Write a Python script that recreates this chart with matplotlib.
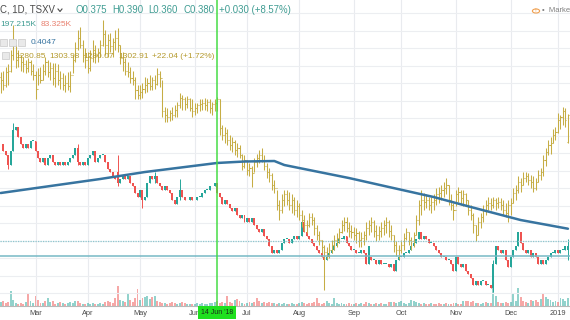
import matplotlib
matplotlib.use("Agg")
import matplotlib.pyplot as plt
from matplotlib.patches import Rectangle, Circle
from matplotlib.lines import Line2D
import numpy as np
import pandas as pd

plt.rcParams['font.family'] = ['Liberation Sans', 'DejaVu Sans']

# ---------------- data ----------------
HOLIDAYS = ['2018-02-19', '2018-03-30', '2018-05-21', '2018-07-02', '2018-08-06',
            '2018-09-03', '2018-10-08', '2018-12-25', '2018-12-26', '2019-01-01']
START, END = '2018-02-08', '2019-01-08'

# stock daily closes (CAD), Feb 2018 .. Jan 2019
stock_close = [
    # Feb
    0.525, 0.515, 0.510, 0.495, 0.515, 0.545, 0.550, 0.535, 0.525, 0.520, 0.525, 0.520, 0.530, 0.530,
    # Mar
    0.515, 0.505, 0.500, 0.505, 0.495, 0.505, 0.510, 0.500, 0.495, 0.500, 0.495, 0.500, 0.495, 0.500,
    0.505, 0.510, 0.520, 0.500, 0.495, 0.500, 0.495,
    # Apr
    0.505, 0.510, 0.515, 0.500, 0.505, 0.510, 0.510, 0.500, 0.490, 0.485, 0.480, 0.475, 0.470, 0.475,
    0.480, 0.475, 0.480, 0.470, 0.465, 0.455, 0.450,
    # May
    0.460, 0.445, 0.450, 0.470, 0.480, 0.475, 0.480, 0.470, 0.465, 0.460, 0.465, 0.460, 0.455, 0.445,
    0.440, 0.450, 0.460, 0.450, 0.445, 0.445, 0.450, 0.445,
    # Jun
    0.445, 0.450, 0.450, 0.455, 0.460, 0.460, 0.465, 0.465, 0.470, 0.455, 0.450, 0.440, 0.445, 0.440,
    0.435, 0.430, 0.435, 0.425, 0.420, 0.425, 0.415,
    # Jul
    0.420, 0.415, 0.420, 0.410, 0.405, 0.400, 0.405, 0.395, 0.390, 0.380, 0.370, 0.375, 0.370, 0.375,
    0.385, 0.390, 0.390, 0.385, 0.390, 0.395, 0.390,
    # Aug
    0.395, 0.415, 0.400, 0.395, 0.390, 0.385, 0.380, 0.375, 0.370, 0.365, 0.360, 0.365, 0.370, 0.375,
    0.380, 0.385, 0.390, 0.390, 0.395, 0.385, 0.380, 0.375,
    # Sep
    0.375, 0.370, 0.370, 0.375, 0.370, 0.355, 0.380, 0.360, 0.360, 0.355, 0.360, 0.355, 0.355, 0.355,
    0.350, 0.355, 0.345, 0.360, 0.365,
    # Oct
    0.365, 0.370, 0.370, 0.375, 0.380, 0.385, 0.390, 0.400, 0.390, 0.395, 0.390, 0.385, 0.385, 0.380,
    0.375, 0.370, 0.365, 0.365, 0.360, 0.360, 0.355, 0.345,
    # Nov
    0.365, 0.355, 0.350, 0.355, 0.345, 0.340, 0.335, 0.325, 0.330, 0.325, 0.330, 0.330, 0.325, 0.325,
    0.320, 0.355, 0.380, 0.375, 0.370, 0.375, 0.360, 0.350,
    # Dec
    0.365, 0.375, 0.380, 0.400, 0.385, 0.375, 0.370, 0.375, 0.365, 0.370, 0.365, 0.355, 0.360, 0.355,
    0.360, 0.365, 0.370, 0.370, 0.375,
    # Jan
    0.370, 0.375, 0.375, 0.380, 0.380,
]
# opens that differ from the previous close (gaps)
stock_open_gaps = {'2018-04-18': 0.485, '2018-09-13': 0.365, '2019-01-08': 0.375}
# visible wicks (high, low)
stock_wicks = {
    '2018-02-13': (0.510, 0.490), '2018-02-15': (0.555, 0.515), '2018-03-26': (0.525, 0.495),
    '2018-04-18': (0.510, 0.465), '2018-05-02': (0.460, 0.435), '2018-05-09': (0.485, 0.470),
    '2018-05-24': (0.475, 0.445), '2018-08-16': (0.370, 0.355), '2018-11-22': (0.360, 0.315),
    '2019-01-08': (0.390, 0.360),
}

# volume, thousands of shares
volume_k = [
    100, 125, 75, 100, 375, 150, 75, 50, 75, 50, 100, 300, 125, 75,
    250, 150, 75, 75, 125, 200, 100, 125, 50, 75, 100, 75, 50, 75, 100, 75, 125, 125, 75, 50, 50,
    75, 50, 75, 50, 50, 75, 50, 100, 125, 100, 75, 200, 500, 150, 125, 100, 300, 150, 100, 200, 425,
    150, 200, 225, 250, 175, 225, 250, 125, 100, 75, 75, 50, 75, 100, 75, 50, 75, 100, 75, 50, 50, 50,
    50, 75, 50, 75, 50, 50, 75, 75, 100, 125, 75, 100, 75, 250, 100, 75, 150, 175, 125, 75, 50,
    75, 100, 75, 100, 200, 125, 75, 100, 75, 100, 75, 75, 50, 75, 50, 75, 50, 50, 75, 50, 50,
    75, 100, 75, 50, 75, 75, 100, 200, 75, 50, 75, 125, 75, 50, 200, 75, 50, 75, 50, 50, 75, 50,
    50, 75, 50, 75, 50, 100, 75, 50, 50, 75, 50, 75, 50, 50, 100, 100, 100, 75, 100,
    125, 75, 50, 75, 150, 125, 100, 75, 50, 75, 50, 50, 75, 50, 50, 75, 50, 50, 75, 50, 50, 75,
    75, 50, 50, 125, 125, 125, 100, 125, 75, 75, 50, 75, 100, 75, 75, 700, 250, 100, 75, 75, 100, 75,
    100, 300, 125, 450, 225, 125, 100, 75, 150, 125, 150, 100, 175, 325, 225, 175, 150, 100, 125,
    100, 200, 175, 125, 197.215,
]

# gold (USD/oz) daily bars
gold_high = [
    1339, 1340, 1343, 1345, 1357, 1378, 1361, 1357, 1353, 1351, 1349, 1350, 1349, 1345,
    1340, 1342, 1343, 1345, 1351, 1349, 1347, 1346, 1346, 1345, 1340, 1338, 1336, 1339, 1340, 1353, 1364, 1374, 1376, 1365, 1359,
    1355, 1357, 1365, 1361, 1359, 1365, 1382, 1374, 1370, 1371, 1367, 1374, 1375, 1361, 1355, 1350, 1347, 1343, 1340, 1335, 1328,
    1328, 1330, 1335, 1334, 1336, 1335, 1336, 1342, 1340, 1332, 1310, 1309, 1307, 1310, 1311, 1314, 1321, 1320, 1318, 1319, 1317, 1316,
    1313, 1313, 1316, 1316, 1317, 1316, 1316, 1314, 1316, 1318, 1316, 1295, 1293, 1291, 1286, 1285, 1282, 1280, 1278, 1271, 1270,
    1266, 1263, 1261, 1267, 1271, 1274, 1276, 1270, 1263, 1259, 1255, 1249, 1241, 1232, 1237, 1241, 1241, 1239, 1237, 1235, 1232,
    1230, 1224, 1220, 1216, 1222, 1222, 1218, 1212, 1207, 1199, 1195, 1193, 1197, 1199, 1203, 1205, 1209, 1216, 1218, 1218, 1214, 1212,
    1210, 1209, 1207, 1206, 1207, 1214, 1216, 1218, 1216, 1212, 1211, 1214, 1216, 1218, 1216, 1212, 1203, 1198, 1195,
    1199, 1205, 1209, 1206, 1202, 1206, 1220, 1232, 1241, 1238, 1237, 1235, 1235, 1237, 1242, 1243, 1245, 1247, 1251, 1245, 1237, 1230,
    1241, 1243, 1241, 1241, 1238, 1232, 1228, 1222, 1212, 1218, 1222, 1228, 1232, 1235, 1234, 1235, 1234, 1235, 1234, 1232, 1230, 1232,
    1234, 1242, 1245, 1252, 1251, 1256, 1256, 1255, 1253, 1252, 1251, 1257, 1259, 1270, 1276, 1282, 1285, 1291, 1293,
    1305, 1303, 1310, 1309, 1303.98,
]
gold_low = [
    1321, 1324, 1326, 1328, 1339, 1349, 1342, 1343, 1340, 1339, 1338, 1339, 1336, 1332,
    1316, 1328, 1330, 1332, 1336, 1335, 1332, 1328, 1326, 1328, 1325, 1324, 1322, 1324, 1322, 1338, 1347, 1357, 1359, 1347, 1342,
    1338, 1340, 1347, 1346, 1347, 1351, 1360, 1353, 1351, 1355, 1351, 1357, 1355, 1345, 1340, 1336, 1335, 1330, 1328, 1316, 1316,
    1316, 1317, 1321, 1322, 1324, 1324, 1325, 1328, 1326, 1301, 1297, 1297, 1298, 1299, 1301, 1301, 1309, 1307, 1307, 1309, 1306, 1301,
    1303, 1305, 1306, 1307, 1307, 1306, 1305, 1303, 1306, 1306, 1286, 1282, 1280, 1278, 1274, 1272, 1270, 1268, 1267, 1257, 1259,
    1253, 1252, 1243, 1256, 1260, 1263, 1264, 1257, 1251, 1247, 1241, 1238, 1224, 1216, 1222, 1227, 1228, 1224, 1222, 1220, 1218,
    1216, 1210, 1207, 1205, 1210, 1212, 1203, 1199, 1195, 1188, 1158, 1183, 1184, 1188, 1191, 1193, 1197, 1205, 1207, 1206, 1202, 1201,
    1199, 1197, 1193, 1193, 1195, 1199, 1203, 1206, 1202, 1198, 1199, 1202, 1203, 1205, 1202, 1199, 1189, 1186, 1183,
    1188, 1191, 1199, 1195, 1191, 1193, 1203, 1212, 1220, 1224, 1226, 1224, 1222, 1224, 1228, 1230, 1232, 1235, 1237, 1228, 1224, 1216,
    1227, 1231, 1228, 1227, 1227, 1220, 1216, 1205, 1198, 1203, 1209, 1214, 1220, 1224, 1224, 1226, 1224, 1226, 1224, 1220, 1218, 1214,
    1220, 1230, 1232, 1238, 1239, 1245, 1247, 1245, 1242, 1239, 1241, 1247, 1249, 1252, 1261, 1270, 1271, 1280, 1282,
    1288, 1291, 1295, 1293, 1280.07,
]
gold_close = [
    1332, 1328, 1339, 1340, 1353, 1365, 1349, 1353, 1347, 1345, 1342, 1347, 1340, 1336,
    1325, 1336, 1332, 1340, 1347, 1339, 1342, 1334, 1340, 1332, 1334, 1328, 1330, 1327, 1336, 1349, 1359, 1367, 1361, 1353, 1349,
    1342, 1350, 1357, 1353, 1355, 1361, 1370, 1361, 1365, 1360, 1364, 1367, 1361, 1350, 1347, 1340, 1339, 1334, 1332, 1324, 1320,
    1322, 1325, 1328, 1330, 1327, 1332, 1329, 1337, 1334, 1306, 1303, 1301, 1305, 1303, 1307, 1311, 1317, 1316, 1312, 1316, 1309, 1306,
    1309, 1311, 1312, 1313, 1311, 1314, 1309, 1312, 1313, 1316, 1292, 1286, 1288, 1282, 1278, 1281, 1274, 1276, 1270, 1261, 1266,
    1257, 1259, 1255, 1264, 1267, 1270, 1266, 1261, 1256, 1253, 1245, 1242, 1228, 1224, 1232, 1237, 1232, 1228, 1232, 1224, 1227,
    1220, 1216, 1212, 1212, 1218, 1216, 1209, 1203, 1199, 1193, 1189, 1187, 1191, 1195, 1199, 1201, 1206, 1212, 1214, 1209, 1207, 1206,
    1203, 1205, 1199, 1201, 1203, 1209, 1212, 1214, 1207, 1203, 1207, 1209, 1212, 1214, 1207, 1203, 1195, 1191, 1191,
    1195, 1201, 1206, 1199, 1198, 1203, 1216, 1228, 1232, 1231, 1232, 1228, 1231, 1232, 1237, 1238, 1241, 1242, 1245, 1232, 1228, 1224,
    1237, 1239, 1234, 1237, 1232, 1224, 1220, 1212, 1203, 1214, 1218, 1224, 1228, 1230, 1228, 1232, 1230, 1231, 1228, 1224, 1222, 1228,
    1230, 1238, 1241, 1247, 1245, 1251, 1252, 1249, 1247, 1242, 1247, 1253, 1256, 1266, 1272, 1278, 1280, 1286, 1289,
    1299, 1301, 1306, 1299, 1302.91,
]
gold_first_open = 1335
gold_last_open = 1280.85

# moving average of the stock (knots)
ma_dates = ['2018-02-08', '2018-04-09', '2018-05-03', '2018-06-14', '2018-06-29', '2018-07-18',
            '2018-07-24', '2018-08-01', '2018-08-30', '2018-09-24', '2018-10-19', '2018-11-09',
            '2018-12-07', '2019-01-08']
ma_values = [0.4557, 0.4757, 0.4857, 0.4986, 0.5007, 0.5014, 0.4957, 0.4914, 0.4771, 0.4643,
             0.4500, 0.4357, 0.4171, 0.4047]

hline_dotted = 0.387
hline_solid = 0.366
crosshair_date = '2018-06-14'
month_labels = ['Mar', 'Apr', 'May', 'Jun', 'Jul', 'Aug', 'Sep', 'Oct', 'Nov', 'Dec', '2019']

# legend texts
sym_text = 'C, 1D, TSXV'
ohlc_parts = ['O0.375', 'H0.390', 'L0.360', 'C0.380', '+0.030 (+8.57%)']
vol_parts = ['197.215K', '83.325K']
ma_text = '0.4047'
gold_parts = ['1280.85', '1303.98', '1280.07', '1302.91', '+22.04 (+1.72%)']

# ---------------- prepare ----------------
dates = pd.bdate_range(START, END)
dates = dates[~dates.isin(pd.to_datetime(HOLIDAYS))]
n = min(len(dates), len(stock_close))
dates = dates[:n]
x = np.arange(n)
c = np.array(stock_close[:n])
o = np.concatenate([[c[0]], c[:-1]])
for d, v in stock_open_gaps.items():
    o[dates.get_loc(pd.Timestamp(d))] = v
hi = np.maximum(o, c)
lo = np.minimum(o, c)
for d, (h, l) in stock_wicks.items():
    i = dates.get_loc(pd.Timestamp(d))
    hi[i], lo[i] = max(h, hi[i]), min(l, lo[i])
prev = np.concatenate([[c[0]], c[:-1]])
up = np.where(c == o, c >= prev, c > o)

UP, DN = '#26a69a', '#ef5350'
GOLD = '#c6ad45'

W, H = 570, 320
fig = plt.figure(figsize=(W / 100, H / 100), dpi=100)
fig.patch.set_facecolor('white')
rect = [0, 14 / H, 1, 306 / H]
axv = fig.add_axes(rect)
ax = axv.twinx()
axg = axv.twinx()
axm = axv.twinx()

axv.set_xlim(-0.27, 228.83)
axv.set_ylim(0, 7650)
ax.set_ylim(0.2943, 0.7314)
axm.set_ylim(0.2943, 0.7314)
axg.set_ylim(1144.3, 1398.6)

for a in (axv, ax, axg, axm):
    a.set_yticks([])
    for s in ('left', 'right', 'top', 'bottom'):
        a.spines[s].set_visible(False)
axv.spines['bottom'].set_visible(True)
axv.spines['bottom'].set_color('#b8b8b8')
axv.spines['bottom'].set_linewidth(0.8)
axv.set_facecolor('white')

# month ticks
month_starts = []
for m in pd.period_range('2018-03', '2019-01', freq='M'):
    sel = np.where((dates.year == m.year) & (dates.month == m.month))[0]
    month_starts.append(sel[0])
axv.set_xticks(month_starts)
axv.set_xticklabels(month_labels)
axv.tick_params(axis='x', length=0, pad=2.6, labelsize=5.3, labelcolor='#4a4a4a')

# grid
for ms in month_starts:
    axv.axvline(ms, color='#e9ebef', lw=0.8, zorder=0)
for g in np.arange(0.3125, 0.74, 0.025):
    ax.axhline(g, color='#eceef1', lw=0.8, zorder=0)

# volume
vcol = [UP if u else DN for u in (c >= prev)]
axv.bar(x, volume_k[:n], width=0.78, color=vcol, alpha=0.5, lw=0, zorder=2)

# candles
ccol = [UP if u else DN for u in up]
body = np.where(np.abs(c - o) < 1e-9, 0.0011, c - o)
ax.vlines(x, lo, hi, colors=ccol, lw=0.7, zorder=3)
ax.bar(x, body, bottom=o, width=0.8, color=ccol, lw=0, zorder=4)

# gold OHLC bars
gc = np.array(gold_close[:n], dtype=float)
go = np.concatenate([[gold_first_open], gc[:-1]])
go[-1] = gold_last_open
gh = np.array(gold_high[:n], dtype=float)
gl = np.array(gold_low[:n], dtype=float)
axg.vlines(x, gl, gh, colors=GOLD, lw=0.75, zorder=3)
axg.hlines(go, x - 0.42, x, colors=GOLD, lw=0.75, zorder=3)
axg.hlines(gc, x, x + 0.42, colors=GOLD, lw=0.75, zorder=3)

# MA and horizontal lines
ma_x = dates.get_indexer(pd.to_datetime(ma_dates))
axm.plot(ma_x, ma_values, color='#3774a0', lw=1.8, solid_capstyle='round', zorder=5)
axm.axhline(hline_dotted, color='#8ec7cf', lw=0.9, ls=(0, (1, 1)), zorder=4)
axm.axhline(hline_solid, color='#76b9c5', lw=1.1, zorder=4)

# crosshair
xi = dates.get_loc(pd.Timestamp(crosshair_date))
axm.axvline(xi, color='#46dc46', lw=1.1, zorder=6, clip_on=False)
axm.text(xi, -6.3 / 306, "14 Jun '18", transform=axm.get_xaxis_transform(),
         ha='center', va='center', fontsize=5.0, color='#1b2a1b', clip_on=False, zorder=10,
         bbox=dict(boxstyle='square,pad=0.45', fc='#1fe01f', ec='none'))

# ---------------- header ----------------
def ft(px, py, s, **kw):
    fig.text(px / W, 1 - py / H, s, va='center', ha='left', **kw)

ft(0.5, 10, sym_text, fontsize=6.9, color='#4a4a4a')
fig.add_artist(Line2D([58 / W, 60 / W, 62 / W], [1 - 9 / H, 1 - 11.5 / H, 1 - 9 / H],
                      transform=fig.transFigure, color='#4a4a4a', lw=0.8))
for px, s in zip([76, 112, 148, 183, 219], ohlc_parts):
    ft(px, 10, s, fontsize=6.9, color='#3f9c92')
ft(0.5, 25, vol_parts[0], fontsize=6.0, color='#3f9c92')
ft(41, 25, vol_parts[1], fontsize=6.0, color='#e8806f')
for bx in (0, 9, 18):
    fig.add_artist(Rectangle((bx / W, 1 - 46 / H), 7 / W, 7 / H, transform=fig.transFigure,
                             fc='#e9e9e9', ec='#c8c8c8', lw=0.5))
ft(31, 42, ma_text, fontsize=6.0, color='#3774a0')
fig.add_artist(Rectangle((2 / W, 1 - 59 / H), 7 / W, 7 / H, transform=fig.transFigure,
                         fc='#e9e9e9', ec='#c8c8c8', lw=0.5))
for px, s in zip([15, 49, 83, 118, 152], gold_parts):
    ft(px, 56, s, fontsize=6.0, color='#b59a2e')

fig.add_artist(Circle((536 / W, 1 - 11 / H), 3.6 / W, transform=fig.transFigure,
                      fc='white', ec='#f0a050', lw=0.8))
ft(534.8, 11, '!', fontsize=4.5, color='#f0a050')
ft(542, 11, '•  Marke', fontsize=5.5, color='#808080')

fig.savefig('out.png', dpi=100, facecolor='white')
